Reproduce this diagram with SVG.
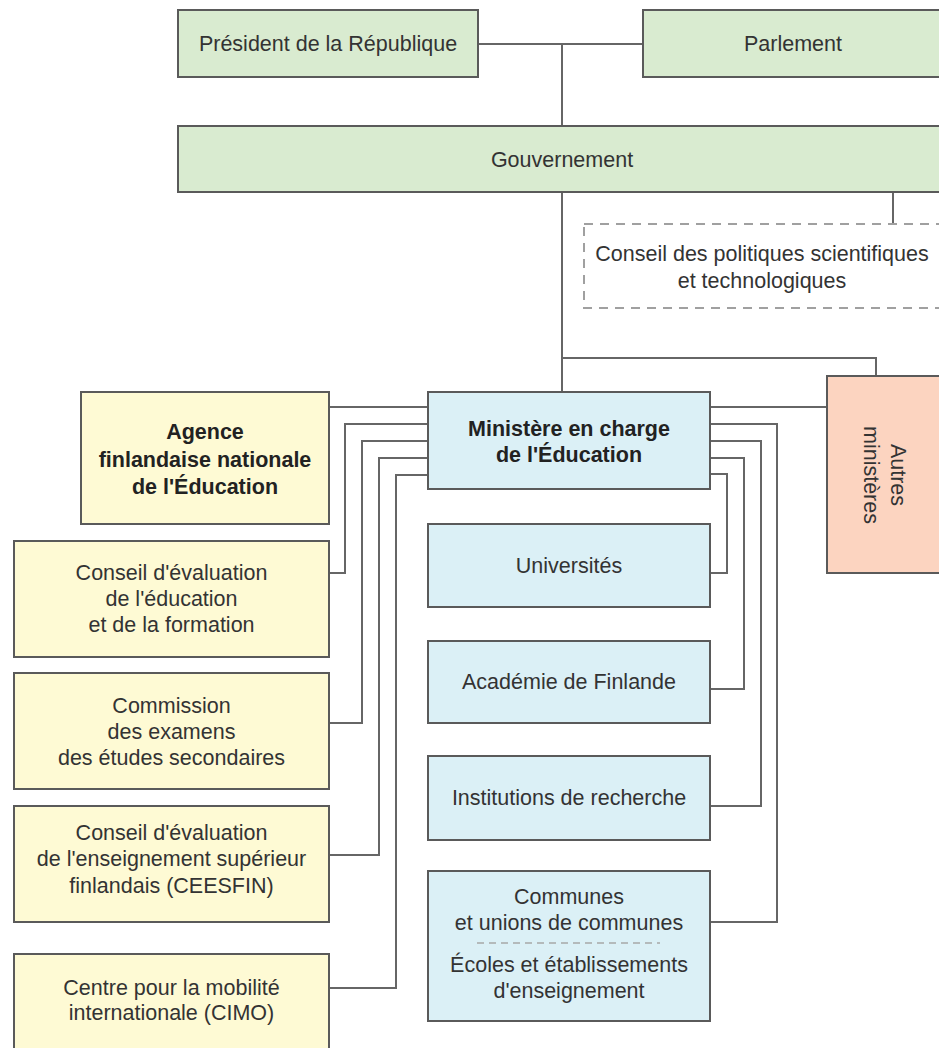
<svg xmlns="http://www.w3.org/2000/svg" width="939" height="1048" viewBox="0 0 939 1048">
<style>
  .box{stroke:#5a5a5a;stroke-width:2}
  .g{fill:#d9ebd0}
  .y{fill:#fefad4}
  .b{fill:#dbf0f6}
  .s{fill:#fcd4c0}
  .dash{fill:#ffffff;stroke:#a0a0a0;stroke-width:2;stroke-dasharray:9 7}
  text{font-family:"Liberation Sans",Arial,sans-serif;font-size:21.5px;fill:#333;text-anchor:middle}
  .bold{font-weight:bold;fill:#222}
  .conn{fill:none;stroke:#666;stroke-width:2}
</style>
<rect width="939" height="1048" fill="#ffffff"/>
<g id="connectors">
  <path class="conn" d="M478,44 H643"/>
  <path class="conn" d="M562,44 V126"/>
  <path class="conn" d="M562,192 V392"/>
  <path class="conn" d="M562,358 H876 V376"/>
  <path class="conn" d="M893,192 V224"/>
  <path class="conn" d="M329,407 H428"/>
  <path class="conn" d="M428,424 H345 V573 H329"/>
  <path class="conn" d="M428,441 H362 V723 H329"/>
  <path class="conn" d="M428,458 H379 V855 H329"/>
  <path class="conn" d="M428,475 H396 V988 H329"/>
  <path class="conn" d="M710,407 H827"/>
  <path class="conn" d="M710,424 H777 V922 H710"/>
  <path class="conn" d="M710,441 H761 V806 H710"/>
  <path class="conn" d="M710,458 H744 V689 H710"/>
  <path class="conn" d="M710,474 H727 V573 H710"/>
</g>
<g id="president">
  <rect class="box g" x="178" y="10" width="300" height="67"/>
  <text x="328" y="51">Président de la République</text>
</g>
<g id="parlement">
  <rect class="box g" x="643" y="10" width="310" height="67"/>
  <text x="793" y="51">Parlement</text>
</g>
<g id="gouvernement">
  <rect class="box g" x="178" y="126" width="775" height="66"/>
  <text x="562" y="167">Gouvernement</text>
</g>
<g id="conseil-politiques">
  <rect class="dash" x="584" y="224" width="370" height="84"/>
  <text x="762" y="261">Conseil des politiques scientifiques</text>
  <text x="762" y="288">et technologiques</text>
</g>
<g id="autres-ministeres">
  <rect class="box s" x="827" y="376" width="130" height="197"/>
  <g transform="translate(883,475) rotate(90)">
    <text x="0" y="-7.5">Autres</text>
    <text x="0" y="19.5">ministères</text>
  </g>
</g>
<g id="ministere">
  <rect class="box b" x="428" y="392" width="282" height="97"/>
  <text class="bold" x="569" y="436">Ministère en charge</text>
  <text class="bold" x="569" y="462">de l'Éducation</text>
</g>
<g id="universites">
  <rect class="box b" x="428" y="524" width="282" height="83"/>
  <text x="569" y="573">Universités</text>
</g>
<g id="academie">
  <rect class="box b" x="428" y="641" width="282" height="82"/>
  <text x="569" y="689">Académie de Finlande</text>
</g>
<g id="institutions">
  <rect class="box b" x="428" y="756" width="282" height="84"/>
  <text x="569" y="805">Institutions de recherche</text>
</g>
<g id="communes">
  <rect class="box b" x="428" y="871" width="282" height="150"/>
  <text x="569" y="904">Communes</text>
  <text x="569" y="930">et unions de communes</text>
  <line x1="477" y1="943" x2="660" y2="943" stroke="#a8a8a8" stroke-width="1.5" stroke-dasharray="7 5"/>
  <text x="569" y="972">Écoles et établissements</text>
  <text x="569" y="998">d'enseignement</text>
</g>
<g id="agence">
  <rect class="box y" x="81" y="392" width="248" height="132"/>
  <text class="bold" x="205" y="439">Agence</text>
  <text class="bold" x="205" y="467">finlandaise nationale</text>
  <text class="bold" x="205" y="494">de l'Éducation</text>
</g>
<g id="conseil-evaluation">
  <rect class="box y" x="14" y="541" width="315" height="116"/>
  <text x="171.5" y="580">Conseil d'évaluation</text>
  <text x="171.5" y="606">de l'éducation</text>
  <text x="171.5" y="632">et de la formation</text>
</g>
<g id="commission">
  <rect class="box y" x="14" y="673" width="315" height="116"/>
  <text x="171.5" y="713">Commission</text>
  <text x="171.5" y="739">des examens</text>
  <text x="171.5" y="765">des études secondaires</text>
</g>
<g id="ceesfin">
  <rect class="box y" x="14" y="806" width="315" height="116"/>
  <text x="171.5" y="840">Conseil d'évaluation</text>
  <text x="171.5" y="866">de l'enseignement supérieur</text>
  <text x="171.5" y="893">finlandais (CEESFIN)</text>
</g>
<g id="cimo">
  <rect class="box y" x="14" y="954" width="315" height="110"/>
  <text x="171.5" y="995">Centre pour la mobilité</text>
  <text x="171.5" y="1020">internationale (CIMO)</text>
</g>
</svg>
